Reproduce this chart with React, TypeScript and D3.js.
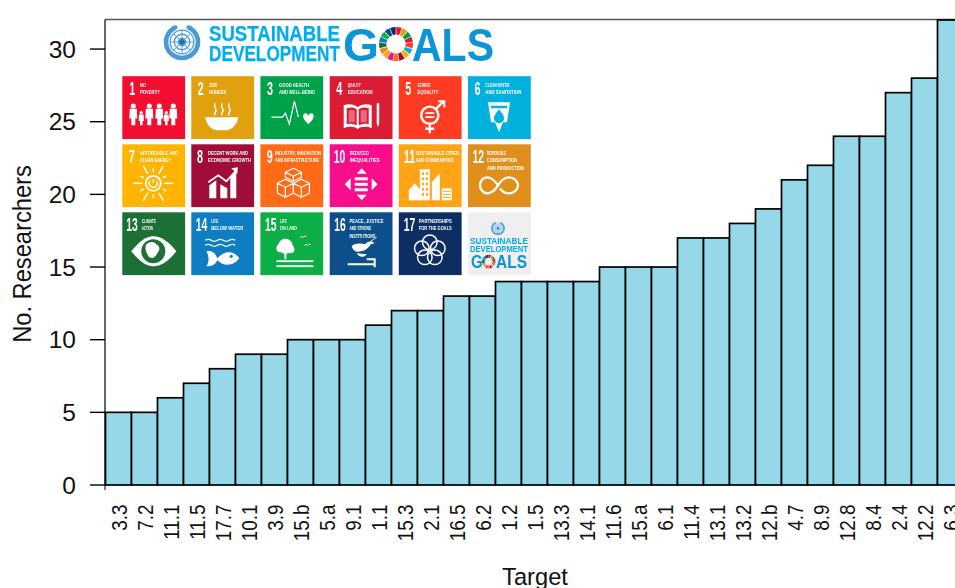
import React from "react";
import * as d3 from "d3";

const targets = ["3.3","7.2","11.1","11.5","17.7","10.1","3.9","15.b","5.a","9.1","1.1","15.3","2.1","16.5","6.2","1.2","1.5","13.3","14.1","11.6","15.a","6.1","11.4","13.1","13.2","12.b","4.7","8.9","12.8","8.4","2.4","12.2","6.3"];
const researchers = [5,5,6,7,8,9,9,10,10,10,11,12,12,13,13,14,14,14,14,15,15,15,17,17,18,19,21,22,24,24,27,28,32];
const yTicks = [0,5,10,15,20,25,30];

const goalNumbers = ["1","2","3","4","5","6","7","8","9","10","11","12","13","14","15","16","17"];
const goalColors = ["#F3112F","#E1A00F","#00A24A","#DA1A35","#FF3A21","#00B1DE","#FFB400","#A00B38","#FF6B12","#F8098A","#FFA416","#E08E1B","#1F7036","#0A7EC2","#0BAE44","#07508A","#0A2E63"];
const goalLabels = [
  ["NO","POVERTY"],["ZERO","HUNGER"],["GOOD HEALTH","AND WELL-BEING"],["QUALITY","EDUCATION"],["GENDER","EQUALITY"],["CLEAN WATER","AND SANITATION"],
  ["AFFORDABLE AND","CLEAN ENERGY"],["DECENT WORK AND","ECONOMIC GROWTH"],["INDUSTRY, INNOVATION","AND INFRASTRUCTURE"],["REDUCED","INEQUALITIES"],["SUSTAINABLE CITIES","AND COMMUNITIES"],["RESPONSIBLE","CONSUMPTION","AND PRODUCTION"],
  ["CLIMATE","ACTION"],["LIFE","BELOW WATER"],["LIFE","ON LAND"],["PEACE, JUSTICE","AND STRONG","INSTITUTIONS"],["PARTNERSHIPS","FOR THE GOALS"],
];
const labelWidths = [
  [6,20],[8,17],[30,36],[13,25],[13,21],[24,36],
  [38,31],[40,43],[46,44],[19,30],[43,38],[19,30,37],
  [14,11],[7,32],[7,17],[34,22,26],[33,33],
];
const labelOffsets = [17.7,18,18.7,18,18.7,17.3,17.7,16.7,14.7,20,17,19,19.5,20,19.6,19.7,20];
const numberOffsets = [7,6.5,6.5,6.5,6.5,6.5,6.5,5.7,6.3,4,5,4.5,4,4.5,4.5,4.5,5];

const W = 955, H = 588;
const M = { left: 105, top: 19.5, bottom: 485 };
const SANS = "'Liberation Sans', Arial, sans-serif";
const BLUE = "#00AEEF";
const DEEP = "#0A94D6";
const TILE = 62.8;
const COLS = [122.3, 191.3, 260.4, 329.7, 398.8, 468];
const ROWS = [76.2, 144.3, 212.3];

const Icon = ({ i, bg }: { i: number; bg: string }) => {
  const w = "#fff";
  switch (i) {
    case 0: {
      const people = [[11,1.1],[19,0.72],[27,1.1],[37,1.1],[44,0.72],[51,1.1]];
      return <g fill={w}>{people.map(([x,s],k)=>(
        <g key={k} transform={`translate(${x},49) scale(${s})`}>
          <circle cx={0} cy={-17.5} r={2.3}/>
          <path d="M-3.2,-15 H3.2 L3.6,-6 H1.8 V0 H-1.8 V-6 H-3.6 Z"/>
        </g>))}</g>;
    }
    case 1:
      return <g>
        <path d="M14,41 H47 C46,49 40,53 36,54 H25 C20,53 15,49 14,41 Z" fill={w}/>
        {[24,31,38].map(x=><path key={x} d={`M${x},27 c-3,3 3,6 0,9 c-1,1 -1,2 0,3`} fill="none" stroke={w} strokeWidth={1.3}/>)}
      </g>;
    case 2:
      return <g fill="none" stroke={w} strokeWidth={1.2}>
        <path d="M11,41 H22 L25,37 L29,48 L34,25 L38,41" />
        <path d="M48,48 C41,42 42,37 45,37 C47,37 48,39 48,40 C48,39 49,37 51,37 C54,37 55,42 48,48 Z" fill={w} stroke="none"/>
      </g>;
    case 3:
      return <g>
        <path d="M14,29 C19,27 25,28 28,31 C31,28 37,27 42,29 V52 C37,50 31,50 28,53 C25,50 19,50 14,52 Z" fill={w}/>
        <path d="M17,32 C20,31 24,31 27,33 V49 C24,48 20,47 17,48 Z M29,33 C32,31 36,31 39,32 V48 C36,47 32,48 29,49 Z" fill={bg}/>
        <path d="M19,34 H25 V46 H19 Z M31,34 H37 V46 H31 Z" fill={w} opacity={0.35}/>
        <path d="M47,27 H49.5 V47 L48.2,51 L47,47 Z" fill={w}/>
      </g>;
    case 4:
      return <g fill="none" stroke={w} strokeWidth={2.4}>
        <circle cx={31} cy={39} r={8.6}/>
        <path d="M31,48 V57 M26.5,52.5 H35.5 M37,33 L45,25"/>
        <path d="M39.5,25 H45.5 V31" strokeWidth={2}/>
        <path d="M26.5,37 H35.5 M26.5,41 H35.5" strokeWidth={1.8}/>
      </g>;
    case 5:
      return <g>
        <path d="M20,26 H42 L39,46 H35 L31,56 L27,46 H23 Z" fill={w}/>
        <path d="M22.5,29.5 H39.5 L39,32 H23 Z" fill={bg}/>
        <path d="M31,33 C35,38 36,40 36,42 A5,5 0 0 1 26,42 C26,40 27,38 31,33 Z" fill={bg}/>
      </g>;
    case 6:
      return <g stroke={w} fill="none" strokeWidth={1.4}>
        <circle cx={31} cy={39} r={7.5} strokeWidth={1.8}/>
        <path d="M31,35 V39 M27.8,36.5 A4,4 0 1 0 34.2,36.5"/>
        {d3.range(12).map(k=>{
          const a = k*Math.PI/6, r1=11, r2=k%2?15:20;
          return <line key={k} x1={31+r1*Math.cos(a)} y1={39+r1*Math.sin(a)} x2={31+r2*Math.cos(a)} y2={39+r2*Math.sin(a)} strokeWidth={1.5}/>;
        })}
      </g>;
    case 7:
      return <g>
        <path d="M18,54 V41 L25,36 V54 Z M29,54 V40 L36,44 V54 Z M39,54 V33 L45,27 V54 Z" fill={w}/>
        <path d="M17,38 L27,31 L35,37 L45,26" fill="none" stroke={w} strokeWidth={1.8}/>
        <path d="M40,24 L46.5,23 L46,30 Z" fill={w}/>
      </g>;
    case 8:
      return <g fill="none" stroke={w} strokeWidth={1.2} strokeLinejoin="round">
        <path d="M33,24 L41,28 V33 L33,37 L25,33 V28 Z M25,28 L33,32 L41,28 M33,32 V37"/>
        <path d="M25,38 L33,42 V52 L25,56 L17,52 V42 Z M17,42 L25,46 L33,42 M25,46 V56" transform="translate(0,-3)"/>
        <path d="M41,38 L49,42 V52 L41,56 L33,52 V42 Z M33,42 L41,46 L49,42 M41,46 V56" transform="translate(0,-3)"/>
      </g>;
    case 9:
      return <g fill={w}>
        <path d="M32,24 L37,29.5 H27 Z M32,56 L37,50.5 H27 Z M15,40 L21,34 V46 Z M48,40 L42,34 V46 Z"/>
        <rect x={25} y={33} width={13} height={3}/><rect x={25} y={38.5} width={13} height={3}/><rect x={25} y={44} width={13} height={3}/>
      </g>;
    case 10:
      return <g fill={w}>
        <path d="M10,46 L16,39 L22,46 V56 H10 Z"/>
        <rect x={21} y={25} width={10} height={31}/>
        <path d="M33,56 V38 L41,29 V56 Z"/>
        <rect x={43} y={44} width={10} height={12}/>
        <g fill="#FFA416">
          {d3.range(5).map(k=><g key={k}><rect x={23} y={28+k*5.2} width={2.2} height={2.6}/><rect x={27} y={28+k*5.2} width={2.2} height={2.6}/></g>)}
          {d3.range(3).map(k=><rect key={k} x={44} y={46.5+k*3} width={8} height={1}/>)}
        </g>
      </g>;
    case 11:
      return <path d="M30,41 C26,35 22,33 19,33 C15,33 12,37 12,41 C12,45 15,49 19,49 C23,49 27,46 30,41 C33,36 37,33 41,33 C46,33 50,37 50,41 C50,45 46,49 41,49 C37,49 34,47 32,44" fill="none" stroke={w} strokeWidth={2.3}/>;
    case 12:
      return <g>
        <path d="M9,39 C17,29 24,24 31,24 C39,24 47,30 54,39 C47,48 39,54 31,54 C24,54 17,49 9,39 Z" fill={w}/>
        <circle cx={31} cy={39} r={12} fill={bg}/>
        <path d="M24,32 C28,29 32,29 34,32 C38,34 38,38 35,41 C33,45 30,47 27,45 C24,41 22,36 24,32 Z" fill={w}/>
      </g>;
    case 13:
      return <g>
        <g fill="none" stroke={w} strokeWidth={1.3}>
          <path d="M14,28 q3,-2 6,0 t6,0 t6,0 t6,0 t6,0"/>
          <path d="M14,33 q3,-2 6,0 t6,0 t6,0 t6,0 t6,0"/>
        </g>
        <path d="M15,39 C20,38 24,40 26,46 C35,36 44,40 48,46 C44,52 34,56 26,48 C24,53 20,54 15,54 C18,50 18,44 15,39 Z" fill={w}/>
        <circle cx={40} cy={44} r={1.6} fill={bg}/>
      </g>;
    case 14:
      return <g fill={w}>
        <circle cx={25} cy={34} r={7.5}/><circle cx={20} cy={36} r={4}/><circle cx={30} cy={37} r={4}/>
        <rect x={24} y={38} width={2} height={9}/>
        <rect x={16} y={48} width={37} height={1.8}/><rect x={16} y={53} width={37} height={1.8}/>
        <path d="M40,25 q2,-2 3,0 q2,-2 3,-1 M44,33 q2,-2 3,0 q2,-2 3,-1" fill="none" stroke={w} strokeWidth={1}/>
      </g>;
    case 15:
      return <g>
        <path d="M22,34 C24,40 28,40 31,39 C36,39 40,34 41,32 L45,31 L42,29 C39,29 37,30 35,32 C33,31 25,30 22,34 Z M27,41 C29,45 34,46 37,42 Z" fill={w}/>
        <path d="M18,52 H45 M37,47 H45 V55" stroke={w} strokeWidth={2} fill="none"/>
        <path d="M41,29 L47,25" stroke={w} strokeWidth={0.8}/>
      </g>;
    case 16:
      return <g fill="none" stroke={w} strokeWidth={1.5}>
        {[[31,30],[39,36],[36,45],[26,45],[23,36]].map(([x,y],k)=><circle key={k} cx={x} cy={y} r={7.3}/>)}
      </g>;
    default:
      return null;
  }
};

const UNEmblem = ({ cx, cy, r, color }: { cx:number; cy:number; r:number; color:string }) => {
  const leaves = d3.range(11).flatMap(k => {
    const t = 0.12 + k * 0.25;
    return [-1, 1].map(side => {
      const px = cx + side * r * 0.86 * Math.sin(t);
      const py = cy + r * 0.86 * Math.cos(t);
      const deg = side * (90 - t * 180 / Math.PI) + 90;
      return { px, py, deg, key: `${k}${side}` };
    });
  });
  return (
    <g>
      {leaves.map(l => (
        <ellipse key={l.key} cx={l.px} cy={l.py} rx={r*0.2} ry={r*0.13} fill={color} transform={`rotate(${l.deg} ${l.px} ${l.py})`}/>
      ))}
      <g fill="none" stroke={color}>
        <circle cx={cx} cy={cy} r={r*0.64} strokeWidth={r*0.07}/>
        <circle cx={cx} cy={cy} r={r*0.42} strokeWidth={r*0.07}/>
        <circle cx={cx} cy={cy} r={r*0.2} strokeWidth={r*0.07}/>
        <path d={`M${cx-r*0.64},${cy} H${cx+r*0.64} M${cx},${cy-r*0.64} V${cy+r*0.64} M${cx-r*0.45},${cy-r*0.45} L${cx+r*0.45},${cy+r*0.45} M${cx+r*0.45},${cy-r*0.45} L${cx-r*0.45},${cy+r*0.45}`} strokeWidth={r*0.05}/>
      </g>
      <circle cx={cx} cy={cy} r={r*0.16} fill="#1F6FB5"/>
    </g>
  );
};

const GoalRing = ({ cx, cy, inner, outer }: { cx:number; cy:number; inner:number; outer:number }) => {
  const pie = d3.pie<string>().value(1).sort(null).padAngle(0.03);
  const arc = d3.arc<d3.PieArcDatum<string>>().innerRadius(inner).outerRadius(outer);
  return <g transform={`translate(${cx},${cy})`}>
    {pie(goalColors).map((p,k)=><path key={k} d={arc(p) ?? ""} fill={p.data}/>)}
  </g>;
};

const Logo = () => (
  <g filter="url(#soft)">
    <UNEmblem cx={182} cy={42} r={18.5} color="#4A9BD8"/>
    <text x={209} y={41} fontFamily={SANS} fontWeight={700} fontSize={21.5} fill={BLUE} stroke={BLUE} strokeWidth={0.25} textLength={131} lengthAdjust="spacingAndGlyphs">SUSTAINABLE</text>
    <text x={209} y={61} fontFamily={SANS} fontWeight={700} fontSize={21.5} fill={BLUE} stroke={BLUE} strokeWidth={0.25} textLength={131} lengthAdjust="spacingAndGlyphs">DEVELOPMENT</text>
    <text x={343} y={61} fontFamily={SANS} fontWeight={700} fontSize={47} fill={DEEP} textLength={36} lengthAdjust="spacingAndGlyphs">G</text>
    <GoalRing cx={396} cy={44} inner={9.5} outer={17}/>
    <text x={412} y={61} fontFamily={SANS} fontWeight={700} fontSize={47} fill={DEEP} textLength={82} lengthAdjust="spacingAndGlyphs">ALS</text>

    {goalNumbers.map((n,i)=>{
      const x = COLS[i%6], y = ROWS[Math.floor(i/6)];
      return <g key={n} transform={`translate(${x},${y})`}>
        <rect width={TILE} height={TILE} fill={goalColors[i]}/>
        <text x={numberOffsets[i]} y={19} fontFamily={SANS} fontWeight={700} fontSize={17.5} fill="#fff"
          textLength={n.length>1?11.5:6} lengthAdjust="spacingAndGlyphs">{n}</text>
        {goalLabels[i].map((t,k)=>(
          <text key={k} x={labelOffsets[i]} y={11+k*7.2} fontFamily={SANS} fontWeight={700} fontSize={5.6} fill="#fff"
            textLength={labelWidths[i][k]} lengthAdjust="spacingAndGlyphs">{t}</text>
        ))}
        <Icon i={i} bg={goalColors[i]}/>
      </g>;
    })}

    <g transform={`translate(${COLS[5]},${ROWS[2]})`}>
      <rect width={TILE} height={TILE} fill="#EFEFEF"/>
      <UNEmblem cx={30} cy={16} r={7} color="#5BA6DC"/>
      <text x={2} y={32} fontFamily={SANS} fontWeight={700} fontSize={8.5} fill={BLUE} textLength={58} lengthAdjust="spacingAndGlyphs">SUSTAINABLE</text>
      <text x={2} y={40} fontFamily={SANS} fontWeight={700} fontSize={8.5} fill={BLUE} textLength={58} lengthAdjust="spacingAndGlyphs">DEVELOPMENT</text>
      <text x={3} y={56} fontFamily={SANS} fontWeight={700} fontSize={19} fill={DEEP} textLength={11.6} lengthAdjust="spacingAndGlyphs">G</text>
      <GoalRing cx={20.7} cy={49.3} inner={3.8} outer={6.8}/>
      <text x={28} y={56} fontFamily={SANS} fontWeight={700} fontSize={19} fill={DEEP} textLength={31} lengthAdjust="spacingAndGlyphs">ALS</text>
    </g>
  </g>
);

export default function App() {
  const y = d3.scaleLinear().domain([0, 32]).range([M.bottom, 20]);
  const x = d3.scaleBand<string>().domain(targets).range([105.5, 105.5 + 26 * targets.length]);

  return (
    <svg width={W} height={H} viewBox={`0 0 ${W} ${H}`} style={{ position: "fixed", left: 0, top: 0, background: "#fff" }}>
      <defs>
        <filter id="soft" x="-2%" y="-2%" width="104%" height="104%"><feGaussianBlur stdDeviation={0.35}/></filter>
      </defs>

      <line x1={M.left} x2={W} y1={M.top} y2={M.top} stroke="#555" strokeWidth={1.4}/>

      <g>
        {targets.map((t,i)=>(
          <rect key={t} x={x(t)} y={y(researchers[i])} width={x.bandwidth()} height={M.bottom - y(researchers[i])}
            fill="#97D8E8" stroke="#000" strokeWidth={1.7}/>
        ))}
      </g>

      <line x1={M.left} x2={M.left} y1={M.top} y2={M.bottom} stroke="#000" strokeWidth={1.2}/>
      <line x1={M.left} x2={M.left} y1={M.bottom} y2={490} stroke="#000" strokeWidth={1}/>

      {yTicks.map(t=>(
        <g key={t}>
          <line x1={90} x2={M.left} y1={y(t)} y2={y(t)} stroke="#000" strokeWidth={1.4}/>
          <text x={76} y={y(t)+8.7} textAnchor="end" fontFamily={SANS} fontSize={24.5} fill="#111">{t}</text>
        </g>
      ))}

      {targets.map(t=>{
        const cx = (x(t) as number) + x.bandwidth()/2;
        return <text key={t} transform={`translate(${cx+8},504.5) rotate(-90) scale(1,1.17)`} fontFamily={SANS} fontSize={18.9} fill="#111" textAnchor="end">{t}</text>;
      })}

      <text transform="translate(30.7,254) rotate(-90) scale(1,1.05)" textAnchor="middle" fontFamily={SANS} fontSize={23.7} fill="#111">No. Researchers</text>
      <text x={535} y={585} textAnchor="middle" fontFamily={SANS} fontSize={23.7} fill="#111">Target</text>

      <Logo/>
    </svg>
  );
}
